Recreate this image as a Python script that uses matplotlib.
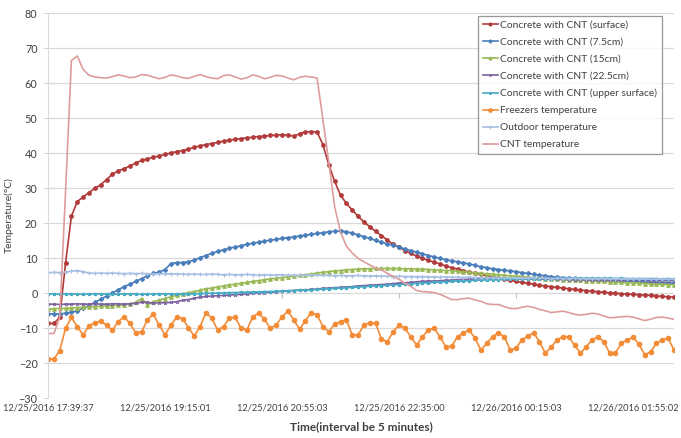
import matplotlib.pyplot as plt
import numpy as np

plt.rcParams['font.family'] = ['Lato', 'DejaVu Sans']

# x axis: one category every 5 minutes, a label every 20 categories
tick_labels = ['12/25/2016 17:39:37', '12/25/2016 19:15:01', '12/25/2016 20:55:03',
               '12/25/2016 22:35:00', '12/26/2016 00:15:03', '12/26/2016 01:55:02']
label_every = 20

surface = [-8.6, -8.6, -6.9, 8.7, 22.0, 26.2, 27.5, 28.8, 30.0, 31.0,
           32.5, 34.0, 35.0, 35.6, 36.4, 37.2, 38.0, 38.4, 38.9, 39.2,
           39.7, 40.1, 40.5, 40.8, 41.2, 41.7, 42.1, 42.5, 42.8, 43.1,
           43.5, 43.7, 44.0, 44.2, 44.4, 44.6, 44.8, 44.9, 45.1, 45.2,
           45.3, 45.2, 44.9, 45.6, 46.1, 46.2, 46.1, 42.4, 36.7, 32.0,
           28.0, 25.7, 23.8, 22.0, 20.4, 19.0, 17.7, 16.5, 15.2, 14.0,
           13.2, 12.2, 11.4, 10.7, 10.0, 9.4, 8.9, 8.4, 7.8, 7.3,
           6.9, 6.5, 6.0, 5.8, 5.4, 5.0, 4.7, 4.4, 4.0, 3.7,
           3.4, 3.1, 2.9, 2.6, 2.3, 2.1, 1.9, 1.7, 1.5, 1.3,
           1.1, 0.9, 0.8, 0.6, 0.4, 0.3, 0.1, 0.0, -0.1, -0.2,
           -0.3, -0.4, -0.5, -0.6, -0.7, -0.9, -1.0, -1.1]

cm7_5 = [-5.8, -5.9, -5.9, -5.7, -5.4, -5.0, -4.3, -3.5, -2.6, -1.7,
         -0.8, 0.1, 1.0, 1.9, 2.6, 3.4, 4.2, 5.0, 5.7, 6.1,
         6.8, 8.5, 8.8, 8.8, 9.0, 9.5, 10.2, 10.8, 11.4, 12.0,
         12.4, 12.9, 13.2, 13.6, 14.0, 14.3, 14.6, 14.9, 15.2, 15.4,
         15.7, 15.9, 16.1, 16.4, 16.6, 16.9, 17.1, 17.3, 17.6, 17.7,
         17.8, 17.6, 17.2, 16.7, 16.2, 15.7, 15.1, 14.6, 14.1, 13.7,
         13.2, 12.7, 12.2, 11.8, 11.3, 10.8, 10.4, 10.0, 9.6, 9.3,
         9.0, 8.7, 8.4, 8.0, 7.6, 7.3, 7.0, 6.8, 6.6, 6.4,
         6.2, 5.9, 5.7, 5.4, 5.2, 5.0, 4.8, 4.6, 4.5, 4.4,
         4.3, 4.2, 4.1, 4.0, 3.9, 3.8, 3.8, 3.7, 3.6, 3.5,
         3.4, 3.3, 3.3, 3.2, 3.1, 3.0, 3.0, 2.9]

cm15 = [-4.5, -4.4, -4.3, -4.3, -4.2, -4.1, -4.0, -3.9, -3.8, -3.7,
        -3.6, -3.5, -3.4, -3.3, -3.0, -2.6, -1.5, -3.3, -2.4, -1.9,
        -1.5, -1.0, -0.6, -0.2, 0.2, 0.5, 0.9, 1.3, 1.5, 1.8,
        2.1, 2.4, 2.6, 2.9, 3.1, 3.4, 3.6, 3.9, 4.1, 4.3,
        4.5, 4.7, 4.9, 5.1, 5.3, 5.5, 5.8, 6.0, 6.2, 6.4,
        6.5, 6.7, 6.8, 6.9, 7.0, 7.0, 7.1, 7.1, 7.1, 7.1,
        7.1, 7.0, 7.0, 6.9, 6.9, 6.8, 6.7, 6.6, 6.5, 6.5,
        6.3, 6.2, 6.0, 5.9, 5.7, 5.6, 5.5, 5.3, 5.2, 5.0,
        4.9, 4.8, 4.6, 4.5, 4.4, 4.2, 4.1, 4.0, 3.9, 3.8,
        3.8, 3.7, 3.6, 3.5, 3.4, 3.4, 3.3, 3.2, 3.1, 3.0,
        3.0, 2.9, 2.8, 2.7, 2.6, 2.6, 2.5, 2.4]

cm22_5 = [-3.1, -3.1, -3.2, -3.1, -3.1, -3.0, -3.1, -3.1, -3.0, -3.1,
          -3.1, -3.0, -3.0, -3.1, -3.0, -2.9, -2.5, -2.6, -2.8, -2.7,
          -2.7, -2.6, -2.4, -2.0, -1.8, -1.4, -1.1, -0.9, -0.8, -0.7,
          -0.6, -0.5, -0.4, -0.3, -0.2, 0.0, 0.1, 0.2, 0.3, 0.4,
          0.6, 0.7, 0.8, 0.9, 1.0, 1.1, 1.2, 1.4, 1.5, 1.6,
          1.7, 1.8, 1.9, 2.1, 2.2, 2.3, 2.4, 2.5, 2.6, 2.8,
          2.9, 3.0, 3.1, 3.3, 3.4, 3.5, 3.5, 3.6, 3.7, 3.8,
          3.9, 3.9, 4.0, 4.1, 4.2, 4.2, 4.2, 4.3, 4.3, 4.2,
          4.2, 4.2, 4.1, 4.1, 4.1, 4.0, 4.0, 4.0, 4.0, 3.9,
          3.9, 3.9, 3.9, 3.8, 3.8, 3.8, 3.8, 3.8, 3.7, 3.7,
          3.7, 3.7, 3.7, 3.6, 3.6, 3.6, 3.6, 3.6]

upper = [-0.2, -0.2, -0.3, -0.2, -0.2, -0.2, -0.3, -0.2, -0.2, -0.2,
         -0.2, -0.3, -0.2, -0.2, -0.2, -0.2, -0.3, -0.2, -0.2, -0.2,
         -0.2, -0.2, -0.2, -0.1, -0.2, -0.1, -0.1, 0.0, 0.0, 0.1,
         0.1, 0.2, 0.2, 0.3, 0.3, 0.4, 0.4, 0.5, 0.5, 0.6,
         0.6, 0.7, 0.8, 0.9, 0.9, 1.0, 1.1, 1.2, 1.3, 1.4,
         1.5, 1.6, 1.7, 1.8, 1.9, 2.0, 2.1, 2.2, 2.3, 2.4,
         2.5, 2.6, 2.7, 2.8, 2.9, 3.0, 3.1, 3.2, 3.3, 3.4,
         3.5, 3.5, 3.6, 3.7, 3.8, 3.8, 3.9, 3.9, 4.0, 4.0,
         4.1, 4.1, 4.1, 4.2, 4.2, 4.2, 4.2, 4.3, 4.3, 4.3,
         4.3, 4.3, 4.3, 4.3, 4.3, 4.3, 4.3, 4.2, 4.3, 4.2,
         4.2, 4.2, 4.2, 4.2, 4.2, 4.1, 4.2, 4.1]

freezer = [-18.8, -18.8, -16.4, -10.0, -6.9, -9.5, -11.9, -9.3, -8.4, -7.9,
           -9.1, -10.5, -8.1, -6.7, -8.6, -11.3, -11.0, -7.6, -5.9, -9.1,
           -11.9, -9.1, -6.8, -7.2, -9.8, -12.2, -9.5, -5.5, -7.1, -10.5,
           -9.5, -7.1, -6.9, -10.0, -10.5, -6.7, -5.7, -7.4, -10.0, -9.1,
           -6.7, -5.1, -7.6, -10.3, -7.8, -5.5, -6.2, -9.5, -11.0, -8.8,
           -8.1, -7.6, -11.9, -11.9, -9.1, -8.4, -8.6, -13.1, -13.8, -11.0,
           -9.1, -10.0, -12.4, -14.8, -12.4, -10.5, -10.0, -12.4, -15.3, -15.1,
           -12.4, -11.3, -10.5, -12.9, -16.2, -14.3, -12.4, -11.3, -12.4, -16.2,
           -15.7, -13.3, -12.2, -11.3, -13.8, -17.1, -15.4, -13.3, -12.4, -12.4,
           -14.8, -17.1, -15.3, -13.3, -12.4, -13.8, -17.1, -17.0, -14.3, -13.3,
           -12.6, -14.5, -17.6, -16.7, -14.3, -13.3, -12.9, -16.2]

outdoor = [5.9, 6.0, 5.9, 6.1, 6.3, 6.5, 6.2, 5.8, 5.7, 5.8,
           5.7, 5.8, 5.7, 5.6, 5.7, 5.6, 5.7, 5.6, 5.5, 5.6,
           5.5, 5.6, 5.5, 5.5, 5.4, 5.5, 5.4, 5.4, 5.5, 5.4,
           5.3, 5.4, 5.3, 5.3, 5.4, 5.3, 5.2, 5.3, 5.2, 5.2,
           5.3, 5.2, 5.2, 5.1, 5.2, 5.1, 5.2, 5.1, 5.1, 5.0,
           5.1, 5.0, 5.0, 5.1, 5.0, 4.9, 5.0, 4.9, 4.9, 4.8,
           4.9, 4.8, 4.8, 4.7, 4.8, 4.7, 4.7, 4.6, 4.7, 4.6,
           4.6, 4.5, 4.6, 4.5, 4.5, 4.4, 4.5, 4.4, 4.4, 4.3,
           4.4, 4.3, 4.3, 4.4, 4.3, 4.3, 4.2, 4.3, 4.2, 4.2,
           4.3, 4.2, 4.2, 4.1, 4.2, 4.2, 4.1, 4.2, 4.1, 4.1,
           4.2, 4.1, 4.1, 4.0, 4.1, 4.1, 4.0, 4.1]

cnt = [-11.5, -11.5, -7.0, 29.0, 66.5, 67.8, 64.0, 62.3, 61.8, 61.6,
       61.5, 61.9, 62.4, 62.1, 61.6, 61.8, 62.5, 62.3, 61.8, 61.3,
       61.7, 62.4, 62.1, 61.6, 61.4, 62.0, 62.5, 61.9, 61.5, 61.3,
       62.2, 62.4, 61.8, 61.2, 61.6, 62.4, 62.0, 61.3, 61.7, 62.3,
       62.1, 61.5, 61.0, 61.7, 62.0, 61.8, 61.5, 49.5, 37.4, 24.7,
       17.5, 13.5, 11.5, 10.0, 9.0, 8.1, 7.2, 6.7, 5.7, 4.8,
       4.0, 2.9, 2.0, 0.8, 0.5, 0.4, 0.2, -0.3, -1.0, -1.8,
       -1.8, -1.5, -1.4, -1.9, -2.3, -3.0, -3.2, -3.2, -3.8, -4.3,
       -4.4, -4.0, -3.7, -4.0, -4.6, -5.0, -5.5, -5.3, -5.1, -5.5,
       -6.0, -6.2, -6.0, -5.7, -5.9, -6.5, -7.0, -6.9, -6.7, -6.6,
       -6.8, -7.3, -7.8, -7.4, -6.9, -6.8, -7.1, -7.4]

series = [
    ('Concrete with CNT (surface)', surface, '#B23A3A', 'o', 2.6),
    ('Concrete with CNT (7.5cm)', cm7_5, '#4A7EBB', 'D', 2.2),
    ('Concrete with CNT (15cm)', cm15, '#98B954', '^', 2.6),
    ('Concrete with CNT (22.5cm)', cm22_5, '#7D60A0', 'x', 2.0),
    ('Concrete with CNT (upper surface)', upper, '#46AAC5', '*', 2.4),
    ('Freezers temperature', freezer, '#F28C36', 'o', 3.2),
    ('Outdoor temperature', outdoor, '#A7BFE3', '+', 3.2),
    ('CNT temperature', cnt, '#DE9C9C', None, 0),
]

fig = plt.figure(figsize=(6.81, 4.38), dpi=100)
ax = fig.add_axes([48 / 681, 1 - 398.3 / 438, 626 / 681, 385 / 438])

x = np.arange(len(surface))
for name, vals, col, mk, ms in series:
    ax.plot(x, vals, color=col, lw=1.2, marker=mk, ms=ms,
            mfc=col, mec=col, mew=0.8, label=name)

ax.set_xlim(0, len(surface) - 1)
ax.set_ylim(-30, 80)
ax.set_yticks(np.arange(-30, 81, 10))
ax.yaxis.grid(True, color='#d9d9d9', lw=0.9)
ax.set_axisbelow(True)

label_pos = np.arange(len(tick_labels)) * label_every
ax.set_xticks(label_pos)
ax.set_xticklabels(tick_labels, fontsize=6.7, color='#404040')
ax.tick_params(axis='x', length=0, pad=4)
ax.tick_params(axis='y', length=3.5, color='#d9d9d9', labelsize=7.8,
               labelcolor='#404040', pad=4)
# small tick marks on the horizontal axis, which crosses at 0
ax.vlines(label_pos[1:], -1.2, 0, color='#bfbfbf', lw=0.8, zorder=1)

for s in ['top', 'right', 'bottom']:
    ax.spines[s].set_visible(False)
ax.spines['left'].set_color('#d9d9d9')

ax.set_xlabel('Time(interval be 5 minutes)', fontsize=8.5, fontweight='bold',
              color='#404040', labelpad=6)
ax.set_ylabel('Temperature(°C)', fontsize=7.5, color='#404040')
ax.yaxis.set_label_coords(-0.055, 0.476)

leg = ax.legend(loc='upper left', bbox_to_anchor=(0.687, 0.993), borderaxespad=0,
                fontsize=7.4, frameon=True, fancybox=False, edgecolor='#7f7f7f',
                handlelength=1.5, handletextpad=0.2, labelspacing=0.76,
                borderpad=0.45, numpoints=1, markerscale=0.8)
leg.get_frame().set_linewidth(0.9)
for t in leg.get_texts():
    t.set_color('#404040')

fig.savefig('out.png', dpi=100, facecolor='white')
